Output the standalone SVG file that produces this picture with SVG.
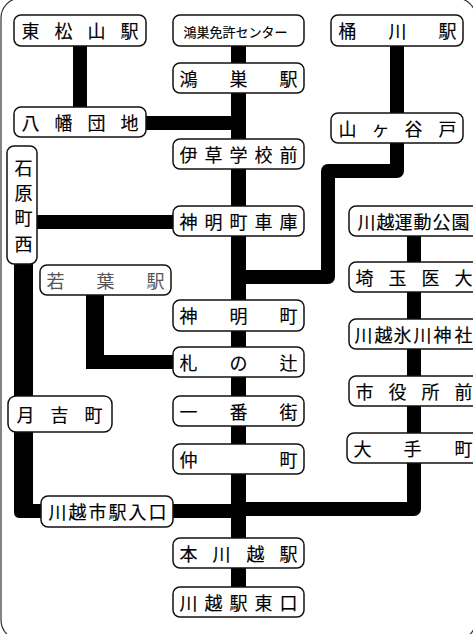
<svg xmlns="http://www.w3.org/2000/svg" width="473" height="634" viewBox="0 0 473 634">
<style>
text{font-family:"Noto Sans CJK JP","Noto Sans CJK SC",sans-serif;font-size:18px;fill:#000;stroke:#000;stroke-width:.15;transform:translate(-.5px,1px)}
.n{fill:#fff;stroke:#111;stroke-width:1.5}
.c{fill:none;stroke:#000;stroke-width:14}
.r{stroke-linejoin:round}
text.g{fill:#555;stroke:none}
</style>
<rect width="473" height="634" fill="#fff"/>
<rect x="1" y="-2" width="475" height="642" rx="20" fill="#fff" stroke="#333" stroke-width="1.2"/>
<g id="connectors">
<path class="c" style="stroke-width:15" d="M238.500 46V587"/>
<path class="c" d="M80 46V107M146 123H231M37 222H173"/>
<path class="c r" d="M397 46V171H328V277H240"/>
<path class="c" d="M414 236V433"/>
<path class="c r" d="M414 463V509H240"/>
<path class="c" d="M173 511H231"/>
<path class="c" style="stroke-width:18" d="M95 295V362"/>
<path class="c" d="M86 362H173"/>
<path d="M14 264H33V504H41V518H20Q14 518 14 512Z"/>
</g>
<g id="n1"><rect class="n" x="14" y="15" width="132" height="31" rx="7"/><text y="37" x="22 55 88 121">東松山駅</text></g>
<g id="n2"><rect class="n" x="173" y="15" width="131" height="31" rx="7"/><text y="36" x="184 197 210 223 236 249 262 275" style="font-size:13px">鴻巣免許センター</text></g>
<g id="n3"><rect class="n" x="173" y="63" width="131" height="30" rx="7"/><text y="85" x="180 230 280">鴻巣駅</text></g>
<g id="n4"><rect class="n" x="14" y="107" width="132" height="30" rx="7"/><text y="129" x="22 55 88 121">八幡団地</text></g>
<g id="n5"><rect class="n" x="173" y="139" width="131" height="30" rx="7"/><text y="161" x="180 205 230 255 280">伊草学校前</text></g>
<g id="n6"><rect class="n" x="173" y="206" width="131" height="30" rx="7"/><text y="228" x="180 205 230 255 280">神明町車庫</text></g>
<g id="n7"><rect class="n" x="7" y="146" width="30" height="118" rx="7"/><text x="15" y="174">石</text><text x="15" y="199">原</text><text x="15" y="224">町</text><text x="15" y="250">西</text></g>
<g id="n8"><rect class="n" x="40" y="265" width="131" height="30" rx="7"/><text class="g" y="287" x="47 97 147">若葉駅</text></g>
<g id="n9"><rect class="n" x="173" y="300" width="131" height="31" rx="7"/><text y="322" x="180 230 280">神明町</text></g>
<g id="n10"><rect class="n" x="173" y="347" width="131" height="30" rx="7"/><text y="369" x="180 230 280">札の辻</text></g>
<g id="n11"><rect class="n" x="173" y="396" width="131" height="30" rx="7"/><text y="418" x="180 230 280">一番街</text></g>
<g id="n12"><rect class="n" x="173" y="444" width="131" height="30" rx="7"/><text y="466" x="180 280">仲町</text></g>
<g id="n13"><rect class="n" x="41" y="496" width="132" height="31" rx="7"/><text y="518" x="49 69 89 109 129 149">川越市駅入口</text></g>
<g id="n14"><rect class="n" x="173" y="538" width="131" height="30" rx="7"/><text y="560" x="180 213 247 280">本川越駅</text></g>
<g id="n15"><rect class="n" x="173" y="587" width="131" height="30" rx="7"/><text y="609" x="180 205 230 255 280">川越駅東口</text></g>
<g id="n16"><rect class="n" x="8" y="396" width="104" height="36" rx="8"/><text y="421" x="17 51 85">月吉町</text></g>
<g id="n17"><rect class="n" x="331" y="15" width="132" height="31" rx="7"/><text y="37" x="339 389 439">桶川駅</text></g>
<g id="n18"><rect class="n" x="331" y="113" width="132" height="30" rx="7"/><text y="135" x="339 372 405 439">山ヶ谷戸</text></g>
<g id="n19"><rect class="n" x="349" y="206" width="130" height="30" rx="7"/><text y="228" x="358 377 395 414 433 452">川越運動公園</text></g>
<g id="n20"><rect class="n" x="349" y="262" width="130" height="30" rx="7"/><text y="284" x="356 389 422 455">埼玉医大</text></g>
<g id="n21"><rect class="n" x="349" y="319" width="130" height="30" rx="7"/><text y="341" x="355 375 394 414 434 455">川越氷川神社</text></g>
<g id="n22"><rect class="n" x="349" y="376" width="130" height="30" rx="7"/><text y="398" x="356 389 422 455">市役所前</text></g>
<g id="n23"><rect class="n" x="347" y="433" width="132" height="30" rx="7"/><text y="455" x="354 404 455">大手町</text></g>
</svg>
